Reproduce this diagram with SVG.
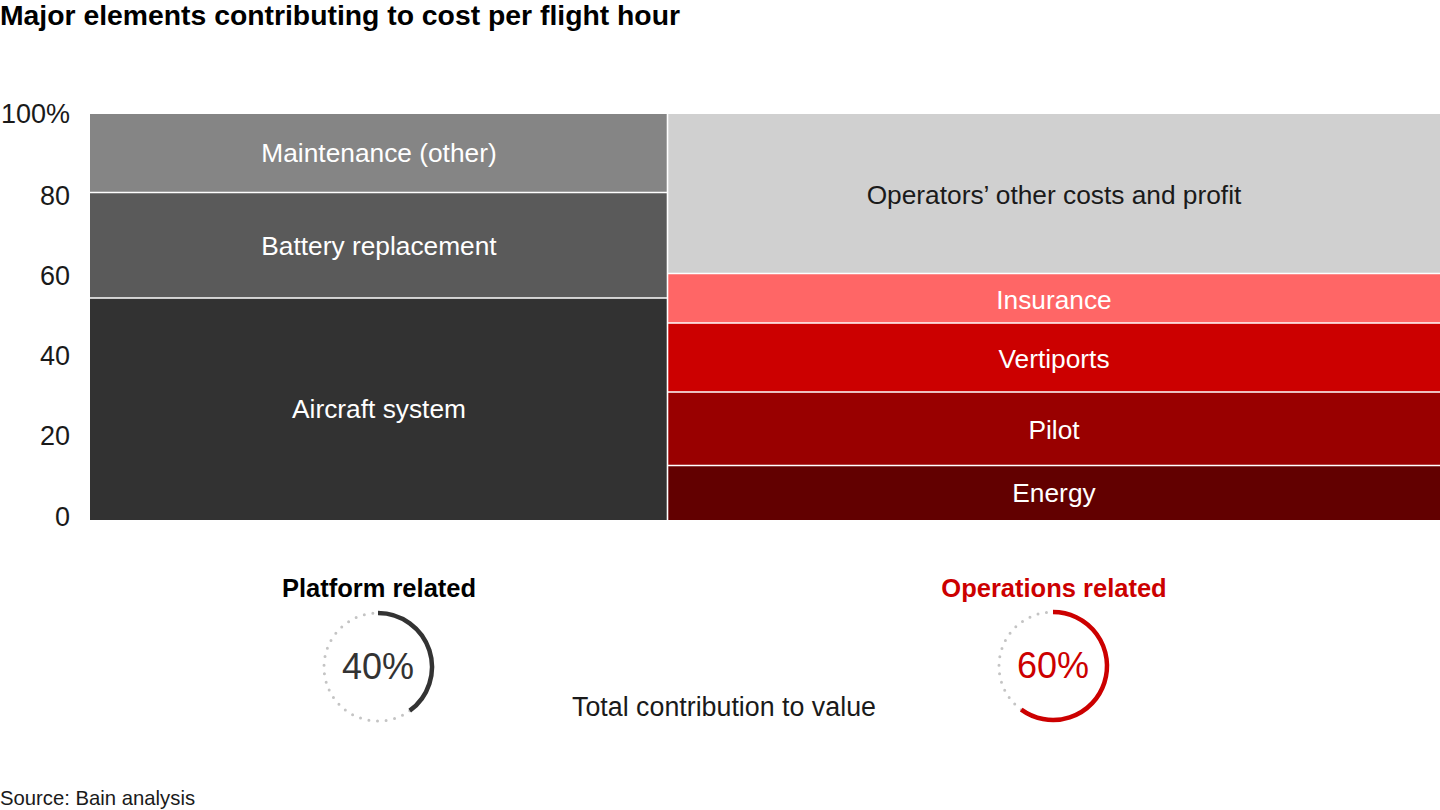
<svg xmlns="http://www.w3.org/2000/svg" width="1440" height="810" viewBox="0 0 1440 810">
<style>
text{font-family:"Liberation Sans",Arial,sans-serif;}
.t{font-size:26.3px;fill:#fff;text-anchor:middle;}
.ax{font-size:27px;fill:#1a1a1a;text-anchor:end;}
.sep{stroke:#fff;stroke-width:1.6;}
.dot{fill:none;stroke:#c4c4c4;stroke-width:3;stroke-dasharray:0 8.6;stroke-linecap:round;}
</style>
<rect width="1440" height="810" fill="#fff"/>
<text x="0" y="25" font-size="28" font-weight="bold" fill="#000" textLength="680" lengthAdjust="spacingAndGlyphs">Major elements contributing to cost per flight hour</text>
<g id="axis">
<text class="ax" x="70" y="123">100%</text>
<text class="ax" x="70" y="205">80</text>
<text class="ax" x="70" y="285">60</text>
<text class="ax" x="70" y="365">40</text>
<text class="ax" x="70" y="445">20</text>
<text class="ax" x="70" y="526">0</text>
</g>
<g id="maintenance"><rect x="90" y="114" width="578" height="79" fill="#858585"/><text class="t" x="379" y="162">Maintenance (other)</text></g>
<g id="battery"><rect x="90" y="193" width="578" height="105" fill="#5a5a5a"/><text class="t" x="379" y="255">Battery replacement</text></g>
<g id="aircraft"><rect x="90" y="298" width="578" height="222" fill="#323232"/><text class="t" x="379" y="418">Aircraft system</text></g>
<g id="operators"><rect x="668" y="114" width="772" height="160" fill="#d0d0d0"/><text class="t" x="1054" y="204" style="fill:#1a1a1a">Operators’ other costs and profit</text></g>
<g id="insurance"><rect x="668" y="274" width="772" height="49" fill="#ff6666"/><text class="t" x="1054" y="309">Insurance</text></g>
<g id="vertiports"><rect x="668" y="323" width="772" height="69" fill="#cc0000"/><text class="t" x="1054" y="368">Vertiports</text></g>
<g id="pilot"><rect x="668" y="392" width="772" height="73" fill="#990000"/><text class="t" x="1054" y="439">Pilot</text></g>
<g id="energy"><rect x="668" y="465" width="772" height="55" fill="#620000"/><text class="t" x="1054" y="502">Energy</text></g>
<g id="separators">
<line class="sep" x1="90" y1="192.5" x2="667" y2="192.5"/>
<line class="sep" x1="90" y1="298" x2="667" y2="298"/>
<line class="sep" x1="667.5" y1="114" x2="667.5" y2="520"/>
<line class="sep" x1="668" y1="273.5" x2="1440" y2="273.5"/>
<line class="sep" x1="668" y1="323" x2="1440" y2="323"/>
<line class="sep" x1="668" y1="392" x2="1440" y2="392"/>
<line class="sep" x1="668" y1="465.5" x2="1440" y2="465.5"/>
</g>
<g id="platform">
<text x="379" y="597" font-size="25.5" font-weight="bold" fill="#000" text-anchor="middle">Platform related</text>
<path class="dot" d="M409.74 710.69 A54 54 0 1 1 378 613"/>
<path d="M378 613 A54 54 0 0 1 409.74 710.69" fill="none" stroke="#333" stroke-width="4.5"/>
<text x="378" y="679" font-size="36" fill="#333" text-anchor="middle">40%</text>
</g>
<g id="operations">
<text x="1054" y="597" font-size="25.5" font-weight="bold" fill="#cc0000" text-anchor="middle">Operations related</text>
<path class="dot" d="M1021.26 709.69 A54 54 0 0 1 1053 612"/>
<path d="M1053 612 A54 54 0 1 1 1021.26 709.69" fill="none" stroke="#cc0000" stroke-width="4.5"/>
<text x="1053" y="678" font-size="36" fill="#cc0000" text-anchor="middle">60%</text>
</g>
<text x="724" y="716" font-size="26.8" fill="#1a1a1a" text-anchor="middle">Total contribution to value</text>
<text x="0" y="805" font-size="20.3" fill="#1a1a1a">Source: Bain analysis</text>
</svg>
